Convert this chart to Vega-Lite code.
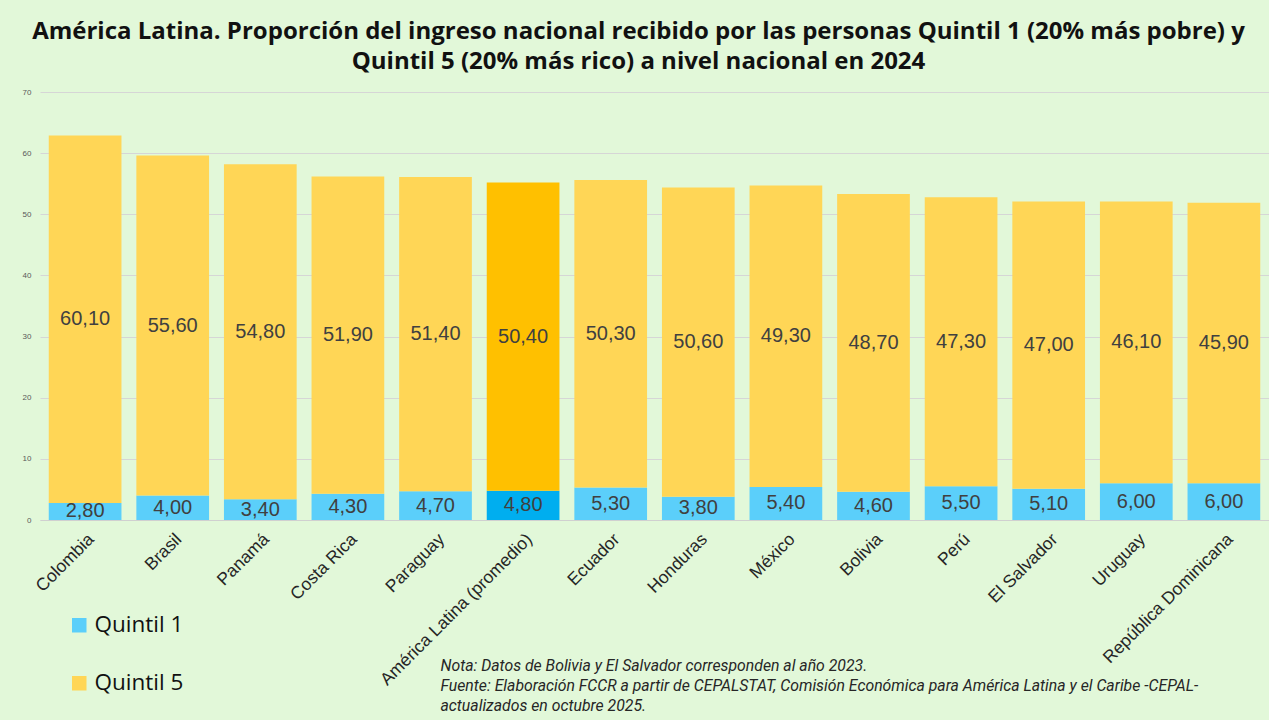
{
  "$schema": "https://vega.github.io/schema/vega-lite/v6.json",
  "width": 1229,
  "height": 428,
  "autosize": {"type": "none"},
  "padding": {"left": 40, "top": 92, "right": 0, "bottom": 200},
  "background": "#E2F8D9",
  "config": {
    "locale": {"number": {"decimal": ",", "thousands": ".", "grouping": [3], "currency": ["", ""]}},
    "view": {"stroke": null},
    "font": "Liberation Sans",
    "axisY": {
      "title": null,
      "domain": false,
      "ticks": false,
      "labelFontSize": 8,
      "labelColor": "#595959",
      "labelPadding": 9,
      "grid": true,
      "gridColor": "#D6D6D6"
    }
  },
  "title": {
    "text": ["América Latina. Proporción del ingreso nacional recibido por las personas Quintil 1 (20% más pobre) y", "Quintil 5 (20% más rico) a nivel nacional en 2024"],
    "font": "Open Sans",
    "fontSize": 24,
    "fontWeight": "bold",
    "lineHeight": 30,
    "color": "#111111",
    "anchor": "middle",
    "dx": -16,
    "offset": 14
  },
  "data": {
    "values": [
      {"pais": "Colombia", "quintil": "Quintil 1", "valor": 2.8},
      {"pais": "Colombia", "quintil": "Quintil 5", "valor": 60.1},
      {"pais": "Brasil", "quintil": "Quintil 1", "valor": 4.0},
      {"pais": "Brasil", "quintil": "Quintil 5", "valor": 55.6},
      {"pais": "Panamá", "quintil": "Quintil 1", "valor": 3.4},
      {"pais": "Panamá", "quintil": "Quintil 5", "valor": 54.8},
      {"pais": "Costa Rica", "quintil": "Quintil 1", "valor": 4.3},
      {"pais": "Costa Rica", "quintil": "Quintil 5", "valor": 51.9},
      {"pais": "Paraguay", "quintil": "Quintil 1", "valor": 4.7},
      {"pais": "Paraguay", "quintil": "Quintil 5", "valor": 51.4},
      {"pais": "América Latina (promedio)", "quintil": "Quintil 1", "valor": 4.8},
      {"pais": "América Latina (promedio)", "quintil": "Quintil 5", "valor": 50.4},
      {"pais": "Ecuador", "quintil": "Quintil 1", "valor": 5.3},
      {"pais": "Ecuador", "quintil": "Quintil 5", "valor": 50.3},
      {"pais": "Honduras", "quintil": "Quintil 1", "valor": 3.8},
      {"pais": "Honduras", "quintil": "Quintil 5", "valor": 50.6},
      {"pais": "México", "quintil": "Quintil 1", "valor": 5.4},
      {"pais": "México", "quintil": "Quintil 5", "valor": 49.3},
      {"pais": "Bolivia", "quintil": "Quintil 1", "valor": 4.6},
      {"pais": "Bolivia", "quintil": "Quintil 5", "valor": 48.7},
      {"pais": "Perú", "quintil": "Quintil 1", "valor": 5.5},
      {"pais": "Perú", "quintil": "Quintil 5", "valor": 47.3},
      {"pais": "El Salvador", "quintil": "Quintil 1", "valor": 5.1},
      {"pais": "El Salvador", "quintil": "Quintil 5", "valor": 47.0},
      {"pais": "Uruguay", "quintil": "Quintil 1", "valor": 6.0},
      {"pais": "Uruguay", "quintil": "Quintil 5", "valor": 46.1},
      {"pais": "República Dominicana", "quintil": "Quintil 1", "valor": 6.0},
      {"pais": "República Dominicana", "quintil": "Quintil 5", "valor": 45.9}
    ]
  },
  "encoding": {
    "x": {
      "field": "pais",
      "type": "nominal",
      "sort": null,
      "scale": {"paddingInner": 0.17, "paddingOuter": 0.1},
      "axis": {
        "title": ["Nota: Datos de Bolivia y El Salvador corresponden al año 2023.", "Fuente: Elaboración FCCR a partir de CEPALSTAT, Comisión Económica para América Latina y el Caribe -CEPAL-", "actualizados en octubre 2025."],
        "labelAngle": -45,
        "labelFontSize": 17.5,
        "labelColor": "#262626",
        "labelFont": "Liberation Sans",
        "labelPadding": 10,
        "labelLimit": 400,
        "ticks": false,
        "domainColor": "#D0D0D0",
        "grid": false,
        "titleX": 400,
        "titleY": 138,
        "titleAlign": "left",
        "titleAnchor": "start",
        "titleBaseline": "top",
        "titleAngle": 0,
        "titleFont": "Roboto",
        "titleFontStyle": "italic",
        "titleFontWeight": "normal",
        "titleFontSize": 15.8,
        "titleLineHeight": 20,
        "titleColor": "#262626"
      }
    }
  },
  "layer": [
    {
      "mark": {"type": "bar"},
      "encoding": {
        "y": {
          "field": "valor",
          "type": "quantitative",
          "stack": "zero",
          "scale": {"domain": [0, 70]},
          "axis": {"title": null, "values": [0, 10, 20, 30, 40, 50, 60, 70]}
        },
        "color": {
          "field": "quintil",
          "type": "nominal",
          "scale": {"domain": ["Quintil 1", "Quintil 5"], "range": ["#5BCFFA", "#FFD656"]},
          "condition": [
            {"test": "datum.pais === 'América Latina (promedio)' && datum.quintil === 'Quintil 1'", "value": "#00AEEF"},
            {"test": "datum.pais === 'América Latina (promedio)' && datum.quintil === 'Quintil 5'", "value": "#FFC000"}
          ],
          "legend": {
            "title": null,
            "orient": "none",
            "legendX": 28,
            "legendY": 522,
            "direction": "vertical",
            "symbolType": "square",
            "symbolSize": 210,
            "symbolStrokeWidth": 0,
            "labelFont": "Open Sans",
            "labelFontSize": 22.5,
            "labelColor": "#111111",
            "labelOffset": 4,
            "rowPadding": 35
          }
        },
        "order": {"field": "quintil", "type": "nominal", "sort": "ascending"}
      }
    },
    {
      "transform": [
        {"stack": "valor", "groupby": ["pais"], "sort": [{"field": "quintil", "order": "ascending"}], "as": ["v0", "v1"]},
        {"fold": ["v0", "v1"], "as": ["extremo", "pos"]}
      ],
      "mark": {"type": "text", "fontSize": 20, "color": "#404040", "font": "Liberation Sans", "baseline": "middle", "align": "center"},
      "encoding": {
        "y": {"aggregate": "mean", "field": "pos", "type": "quantitative", "stack": null, "axis": {"title": null, "values": [0, 10, 20, 30, 40, 50, 60, 70]}},
        "detail": {"field": "quintil", "type": "nominal"},
        "text": {"aggregate": "max", "field": "valor", "type": "quantitative", "format": ".2f"}
      }
    }
  ]
}
